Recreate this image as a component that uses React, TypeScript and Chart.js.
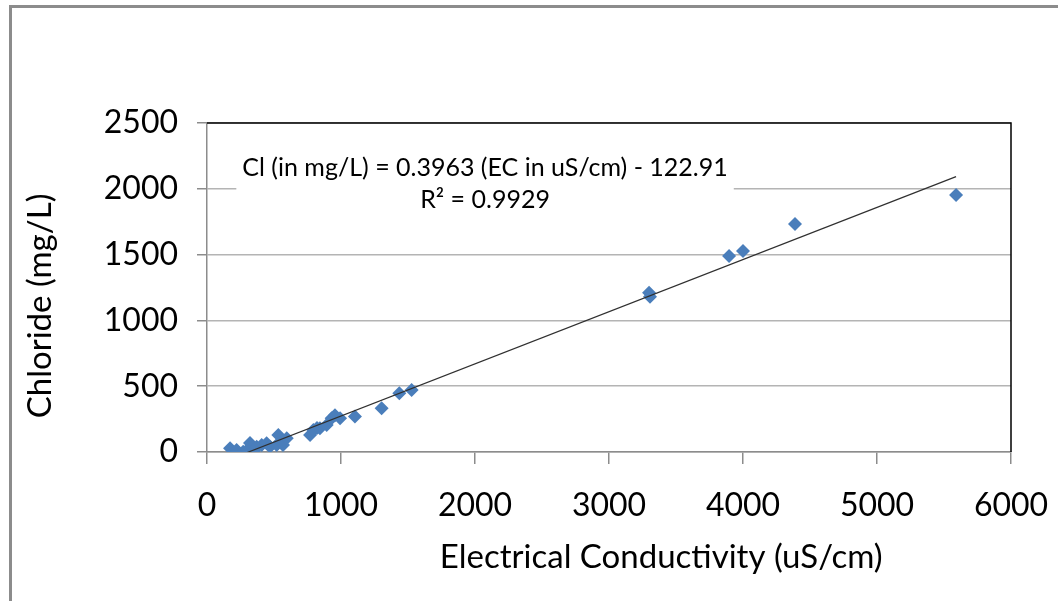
import { useEffect, useRef } from "react";
import { Chart, registerables } from "chart.js";

Chart.register(...registerables);

// ---- data ----
const ecValues = [172, 221, 270, 300, 321, 350, 371, 408, 445, 470, 520, 532, 557, 567, 595, 769, 794, 821, 843, 893, 930, 955, 993, 1104, 1303, 1435, 1527, 3299, 3306, 3896, 4000, 4388, 5590];
const chlorideValues = [28, 15, 2, 15, 68, 10, 40, 53, 66, 40, 53, 129, 78, 53, 104, 129, 167, 182, 180, 205, 256, 280, 256, 270, 332, 446, 471, 1210, 1180, 1489, 1527, 1733, 1953];
const trendSlope = 0.3963;
const trendIntercept = -122.91;
const equationLines = ["Cl (in mg/L) = 0.3963 (EC in uS/cm) - 122.91", "R\u00B2 = 0.9929"];
const xTickValues = [0, 1000, 2000, 3000, 4000, 5000, 6000];
const yTickValues = [0, 500, 1000, 1500, 2000, 2500];
const xAxisTitle = "Electrical Conductivity (uS/cm)";
const yAxisTitle = "Chloride (mg/L)";

const FONT = "Lato, 'Open Sans', sans-serif";

export default function App() {
  const ref = useRef<HTMLCanvasElement | null>(null);

  useEffect(() => {
    document.body.style.margin = "0";
    const canvas = ref.current;
    if (!canvas) return;

    const scatter = ecValues.map((x, i) => ({ x, y: chlorideValues[i] }));
    const xMin = Math.min(...ecValues);
    const xMax = Math.max(...ecValues);
    const trend = [xMin, xMax].map((x) => ({ x, y: trendSlope * x + trendIntercept }));

    const framePlugin = {
      id: "frame",
      beforeDraw(chart: any) {
        const ctx = chart.ctx;
        ctx.save();
        ctx.fillStyle = "#ffffff";
        ctx.fillRect(0, 0, chart.width, chart.height);
        ctx.strokeStyle = "#8c8c8c";
        ctx.lineWidth = 3;
        ctx.beginPath();
        ctx.moveTo(10.5, chart.height);
        ctx.lineTo(10.5, 6.5);
        ctx.lineTo(chart.width, 6.5);
        ctx.stroke();
        ctx.restore();
      },
      afterDraw(chart: any) {
        const ctx = chart.ctx;
        const a = chart.chartArea;
        ctx.save();
        // plot area top & right border
        ctx.strokeStyle = "#000000";
        ctx.lineWidth = 1.5;
        ctx.beginPath();
        ctx.moveTo(a.left, a.top);
        ctx.lineTo(a.right, a.top);
        ctx.lineTo(a.right, a.bottom);
        ctx.stroke();
        // equation label
        const xs = chart.scales.x;
        const ys = chart.scales.y;
        const cx = xs.getPixelForValue(2075);
        const y1 = ys.getPixelForValue(2158);
        const y2 = ys.getPixelForValue(1915);
        ctx.font = `25px ${FONT}`;
        const w = ctx.measureText(equationLines[0]).width;
        ctx.fillStyle = "#ffffff";
        ctx.fillRect(cx - w / 2 - 6, y1 - 18, w + 12, y2 - y1 + 36);
        ctx.fillStyle = "#000000";
        ctx.textAlign = "center";
        ctx.textBaseline = "middle";
        ctx.fillText(equationLines[0], cx, y1);
        ctx.fillText(equationLines[1], cx, y2);
        // axis titles
        ctx.font = `33px ${FONT}`;
        ctx.fillText(xAxisTitle, xs.getPixelForValue(3390), 557);
        ctx.save();
        ctx.translate(40, ys.getPixelForValue(1110));
        ctx.rotate(-Math.PI / 2);
        ctx.fillText(yAxisTitle, 0, 0);
        ctx.restore();
        ctx.restore();
      },
    };

    const chart = new Chart(canvas, {
      type: "scatter",
      data: {
        datasets: [
          {
            type: "line",
            data: trend,
            borderColor: "#303030",
            borderWidth: 1.2,
            pointRadius: 0,
            fill: false,
          } as any,
          {
            type: "scatter",
            data: scatter,
            pointStyle: "rectRot",
            pointRadius: 7,
            pointHoverRadius: 7,
            backgroundColor: "#4a7ebb",
            borderColor: "#4a7ebb",
            borderWidth: 0,
          },
        ],
      },
      options: {
        responsive: false,
        animation: false,
        events: [],
        layout: { padding: { left: 0, right: 47, top: 123, bottom: 0 } },
        plugins: { legend: { display: false }, tooltip: { enabled: false } },
        scales: {
          x: {
            type: "linear",
            min: 0,
            max: 6000,
            afterBuildTicks: (s: any) => {
              s.ticks = xTickValues.map((v) => ({ value: v }));
            },
            afterFit: (s: any) => {
              s.height = 149;
              s.paddingLeft = 0;
              s.paddingRight = 0;
            },
            grid: { drawOnChartArea: false, color: "#8c8c8c", tickColor: "#8c8c8c", tickLength: 12, lineWidth: 1.5 },
            border: { color: "#8c8c8c", width: 1.5 },
            ticks: {
              color: "#000",
              padding: 22,
              font: { family: FONT, size: 32 },
              maxRotation: 0,
              callback: (v: any) => String(v),
            },
          },
          y: {
            type: "linear",
            min: 0,
            max: 2500,
            afterBuildTicks: (s: any) => {
              s.ticks = yTickValues.map((v) => ({ value: v }));
            },
            afterFit: (s: any) => {
              s.width = 207;
              s.paddingTop = 0;
              s.paddingBottom = 0;
            },
            grid: { color: "#b4b4b4", tickColor: "#8c8c8c", tickLength: 10, lineWidth: 1.5 },
            border: { color: "#8c8c8c", width: 1.5 },
            ticks: { color: "#000", padding: 19, font: { family: FONT, size: 32 }, callback: (v: any) => String(v) },
          },
        },
      },
      plugins: [framePlugin],
    });

    return () => chart.destroy();
  }, []);

  return <canvas ref={ref} width={1058} height={601} style={{ display: "block" }} />;
}
